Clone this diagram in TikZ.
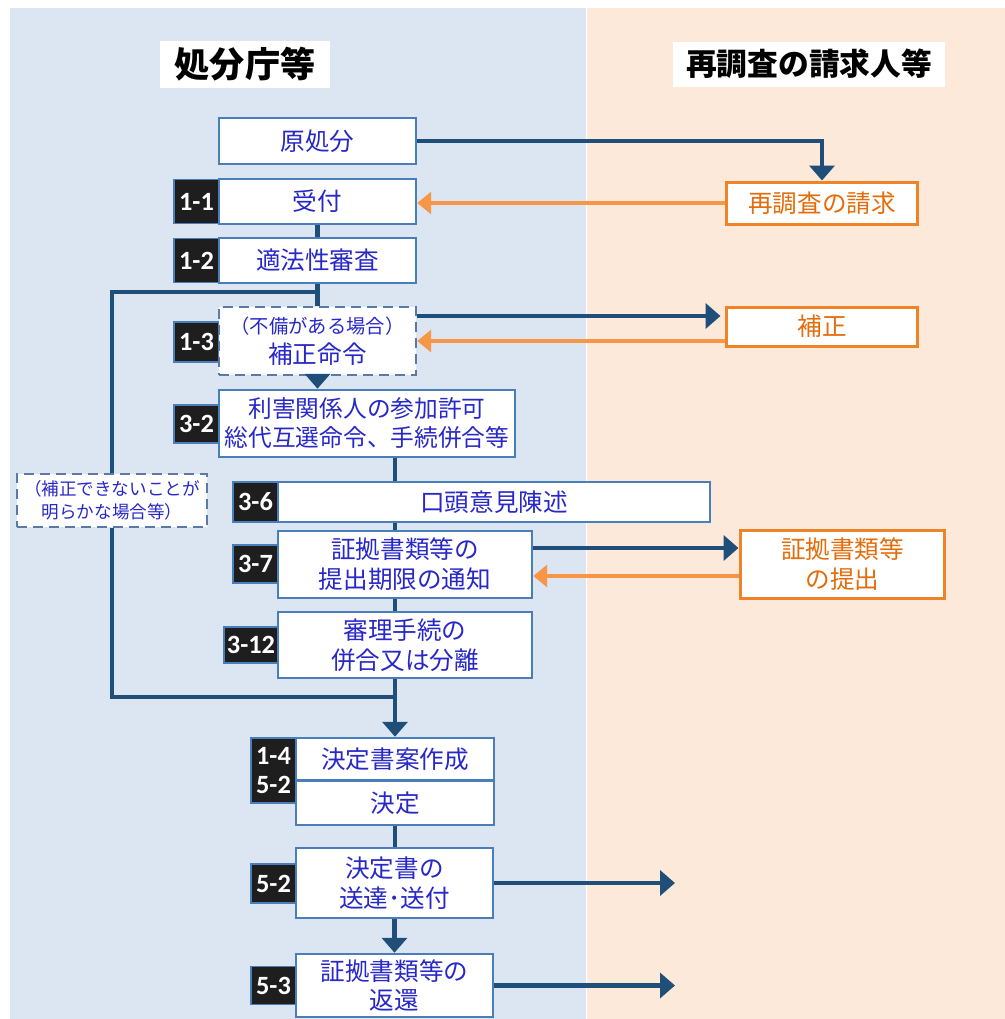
\documentclass[tikz,border=0pt]{standalone}
\usepackage{fontspec}
\setmainfont{Noto Sans CJK JP}
\newfontfamily\lab{Carlito}
\usetikzlibrary{arrows.meta}
\definecolor{bgblue}{RGB}{220,230,242}
\definecolor{bgpeach}{RGB}{253,233,217}
\definecolor{dkblue}{RGB}{31,78,121}
\definecolor{boxblue}{RGB}{74,126,187}
\definecolor{txtblue}{RGB}{40,40,200}
\definecolor{orline}{RGB}{247,150,70}
\definecolor{orbox}{RGB}{240,130,40}
\definecolor{ortxt}{RGB}{228,108,10}
\definecolor{dashblue}{RGB}{90,122,168}
\definecolor{labfill}{RGB}{30,30,30}
\begin{document}
\begin{tikzpicture}[x=0.02cm,y=-0.02cm,
 bbox/.style={draw=boxblue, fill=white, line width=0.05cm, text=txtblue, inner sep=0pt, align=center, font=\fontsize{14pt}{17pt}\selectfont},
 dbox/.style={bbox, draw=dashblue, dash pattern=on 0.2cm off 0.12cm},
 obox/.style={draw=orbox, fill=white, line width=0.06cm, text=ortxt, inner sep=0pt, align=center, font=\fontsize{14pt}{17pt}\selectfont},
 lbl/.style={draw=boxblue, fill=labfill, line width=0.03cm, text=white, inner sep=0pt, align=center, font=\lab\bfseries\fontsize{15pt}{16pt}\selectfont},
 ttl/.style={fill=white, inner sep=0pt, font=\bfseries\fontsize{20pt}{22pt}\selectfont},
 bl/.style={draw=dkblue, line width=0.09cm},
 orl/.style={draw=orline, line width=0.08cm},
 btip/.style={-{Triangle[width=0.5cm,length=0.3cm]}},
 otip/.style={-{Triangle[width=0.44cm,length=0.28cm]}},
]
\useasboundingbox (0,0) rectangle (1005,1019);
\fill[white] (0,0) rectangle (1005,1019);
\fill[bgblue] (10,8) rectangle (586,1019);
\fill[bgpeach] (587,8) rectangle (1005,1019);

% titles
\node[ttl, minimum width=3.4cm, minimum height=0.94cm] (t1) at (245,64.5) {処分庁等};
\node[ttl, minimum width=5.44cm, minimum height=0.9cm, font=\bfseries\fontsize{17.5pt}{20pt}\selectfont] (t2) at (809,64) {再調査の請求人等};

% labels
\node[lbl, minimum width=0.9cm, minimum height=0.88cm] (l11) at (196.5,201.5) {1-1};
\node[lbl, minimum width=0.9cm, minimum height=0.88cm] (l12) at (196.5,260.5) {1-2};
\node[lbl, minimum width=0.9cm, minimum height=0.8cm] (l13) at (196.5,342) {1-3};
\node[lbl, minimum width=0.9cm, minimum height=0.76cm] (l32) at (196.5,424) {3-2};
\node[lbl, minimum width=0.9cm, minimum height=0.8cm] (l36) at (255.5,502) {3-6};
\node[lbl, minimum width=0.9cm, minimum height=0.76cm] (l37) at (255.5,564) {3-7};
\node[lbl, minimum width=1.08cm, minimum height=0.72cm] (l312) at (251,645) {3-12};
\node[lbl, minimum width=0.9cm, minimum height=1.3cm] (l14) at (273.5,770.5) {1-4\\5-2};
\node[lbl, minimum width=0.9cm, minimum height=0.78cm] (l52) at (273.5,883.5) {5-2};
\node[lbl, minimum width=0.9cm, minimum height=0.76cm] (l53) at (273.5,985.5) {5-3};

% main boxes
\node[bbox, minimum width=3.94cm, minimum height=0.92cm] (gen) at (317.5,141) {原処分};
\node[bbox, minimum width=3.94cm, minimum height=0.9cm] (uke) at (317.5,201.5) {受付};
\node[bbox, minimum width=3.94cm, minimum height=0.9cm] (tek) at (317.5,260.5) {適法性審査};
\node[dbox, minimum width=3.94cm, minimum height=1.36cm] (hmr) at (317.5,341) {{\fontsize{11pt}{14pt}\selectfont（不備がある場合）}\\補正命令};
\node[bbox, minimum width=5.92cm, minimum height=1.34cm, font=\fontsize{13.5pt}{16.5pt}\selectfont] (n32) at (367,423.5) {利害関係人の参加許可\\総代互選命令、手続併合等};
\node[bbox, minimum width=8.64cm, minimum height=0.8cm] (n36) at (494,502) {口頭意見陳述};
\node[bbox, minimum width=5.08cm, minimum height=1.34cm] (n37) at (405,564.5) {証拠書類等の\\提出期限の通知};
\node[bbox, minimum width=5.08cm, minimum height=1.32cm] (n312) at (405,645) {審理手続の\\併合又は分離};
\node[bbox, minimum width=3.96cm, minimum height=0.84cm] (n14) at (395,759) {決定書案作成};
\node[bbox, minimum width=3.96cm, minimum height=0.88cm] (kt) at (395,803) {決定};
\node[bbox, minimum width=3.94cm, minimum height=1.4cm] (n52) at (394.5,883) {決定書の\\送達･送付};
\node[bbox, minimum width=3.94cm, minimum height=1.26cm] (n53) at (394.5,985.5) {証拠書類等の\\返還};
\node[dbox, minimum width=3.8cm, minimum height=1.06cm, font=\fontsize{10pt}{13pt}\selectfont] (fus) at (112,500.5) {（補正できないことが\\明らかな場合等）};

% right boxes
\node[obox, minimum width=3.84cm, minimum height=0.84cm] (sai) at (822,203) {再調査の請求};
\node[obox, minimum width=3.84cm, minimum height=0.78cm] (hos) at (822,326.5) {補正};
\node[obox, minimum width=4.1cm, minimum height=1.36cm] (sho) at (842.5,564) {証拠書類等\\の提出};

% coordinates
\coordinate (br) at (317.5,292);
\coordinate (jn) at (395,697);
\coordinate (o52) at (675,883);
\coordinate (o53) at (675,985.5);

% connectors
\draw[bl, btip] (gen.east) -| (sai.north);
\draw[orl, otip] (sai.west) -- (sai.west -| uke.east);
\draw[bl] (uke.south) -- (tek.north);
\draw[bl] (tek.south) -- (hmr.north);
\draw[bl] (br) -| (fus.north);
\draw[bl] (fus.south) |- (jn);
\draw[bl, btip] (hmr.south) -- (hmr.south |- n32.north);
\draw[bl, btip, shorten >=0.08cm] ([yshift=0.5cm]hmr.east) -- ([yshift=0.5cm]hmr.east -| hos.west);
\draw[orl, otip] (hmr.east -| hos.west) -- (hmr.east);
\draw[bl] (n32.south -| n14.north) -- (n36.north -| n14.north);
\draw[bl] (n36.south -| n14.north) -- (n37.north -| n14.north);
\draw[bl] (n37.south -| n14.north) -- (n312.north -| n14.north);
\draw[bl, btip] (n312.south -| n14.north) -- (n14.north);
\draw[bl, btip] ([yshift=0.33cm]n37.east) -- ([yshift=0.33cm]n37.east -| sho.west);
\draw[orl, otip] ([yshift=-0.23cm]n37.east -| sho.west) -- ([yshift=-0.23cm]n37.east);
\draw[bl] (kt.south) -- (kt.south |- n52.north);
\draw[bl, btip] (n52.south) -- (n53.north);
\draw[bl, btip] (n52.east) -- (o52);
\draw[bl, btip] (n53.east) -- (o53);
\end{tikzpicture}
\end{document}
